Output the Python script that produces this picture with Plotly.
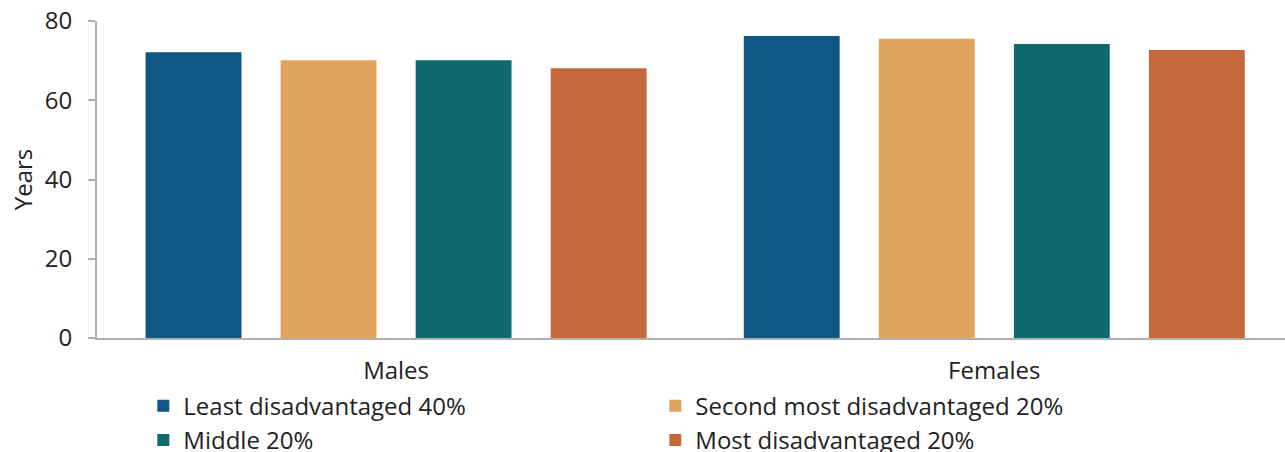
import plotly.graph_objects as go

categories = ["Males", "Females"]
series_names = ["Least disadvantaged 40%", "Second most disadvantaged 20%", "Middle 20%", "Most disadvantaged 20%"]
least = [72.1, 76.2]
second = [70.1, 75.5]
middle = [70.1, 74.2]
most = [68.1, 72.7]
colors = ["#115783", "#E0A45E", "#0F6A6E", "#C5693C"]
y_ticks = [0, 20, 40, 60, 80]

fig = go.Figure()
for name, vals, col in zip(series_names, [least, second, middle, most], colors):
    fig.add_trace(go.Bar(name=name, x=categories, y=vals, marker=dict(color=col, line=dict(width=0))))

fig.update_layout(
    width=1285, height=452,
    barmode="group", bargap=0.097, bargroupgap=0.29,
    paper_bgcolor="white", plot_bgcolor="white",
    font=dict(family="Open Sans", size=24, color="#222222"),
    margin=dict(l=97, r=0, t=21, b=114, autoexpand=False),
    showlegend=True,
    legend=dict(orientation="h", x=0.039, y=-0.144,
                xanchor="left", yanchor="top", entrywidth=467, entrywidthmode="pixels",
                font=dict(size=24), tracegroupgap=0, itemsizing="constant",
                bgcolor="rgba(0,0,0,0)"),
    xaxis=dict(range=[-0.5, 1.486], showline=True, linecolor="#B0B0B0", linewidth=2,
               ticks="", ticklabelstandoff=10, showgrid=False, zeroline=False),
    yaxis=dict(range=[0, 80], tickvals=y_ticks, showline=True, linecolor="#B0B0B0", linewidth=2,
               ticks="outside", tickcolor="#B0B0B0", ticklen=7, tickwidth=2,
               ticklabelstandoff=11,
               showgrid=False, zeroline=False,
               title=dict(text="Years", standoff=5, font=dict(size=24))),
)

fig.write_html("out.html", config={"displayModeBar": False},
               post_script="document.body.style.margin='0';document.body.style.overflow='hidden';")
